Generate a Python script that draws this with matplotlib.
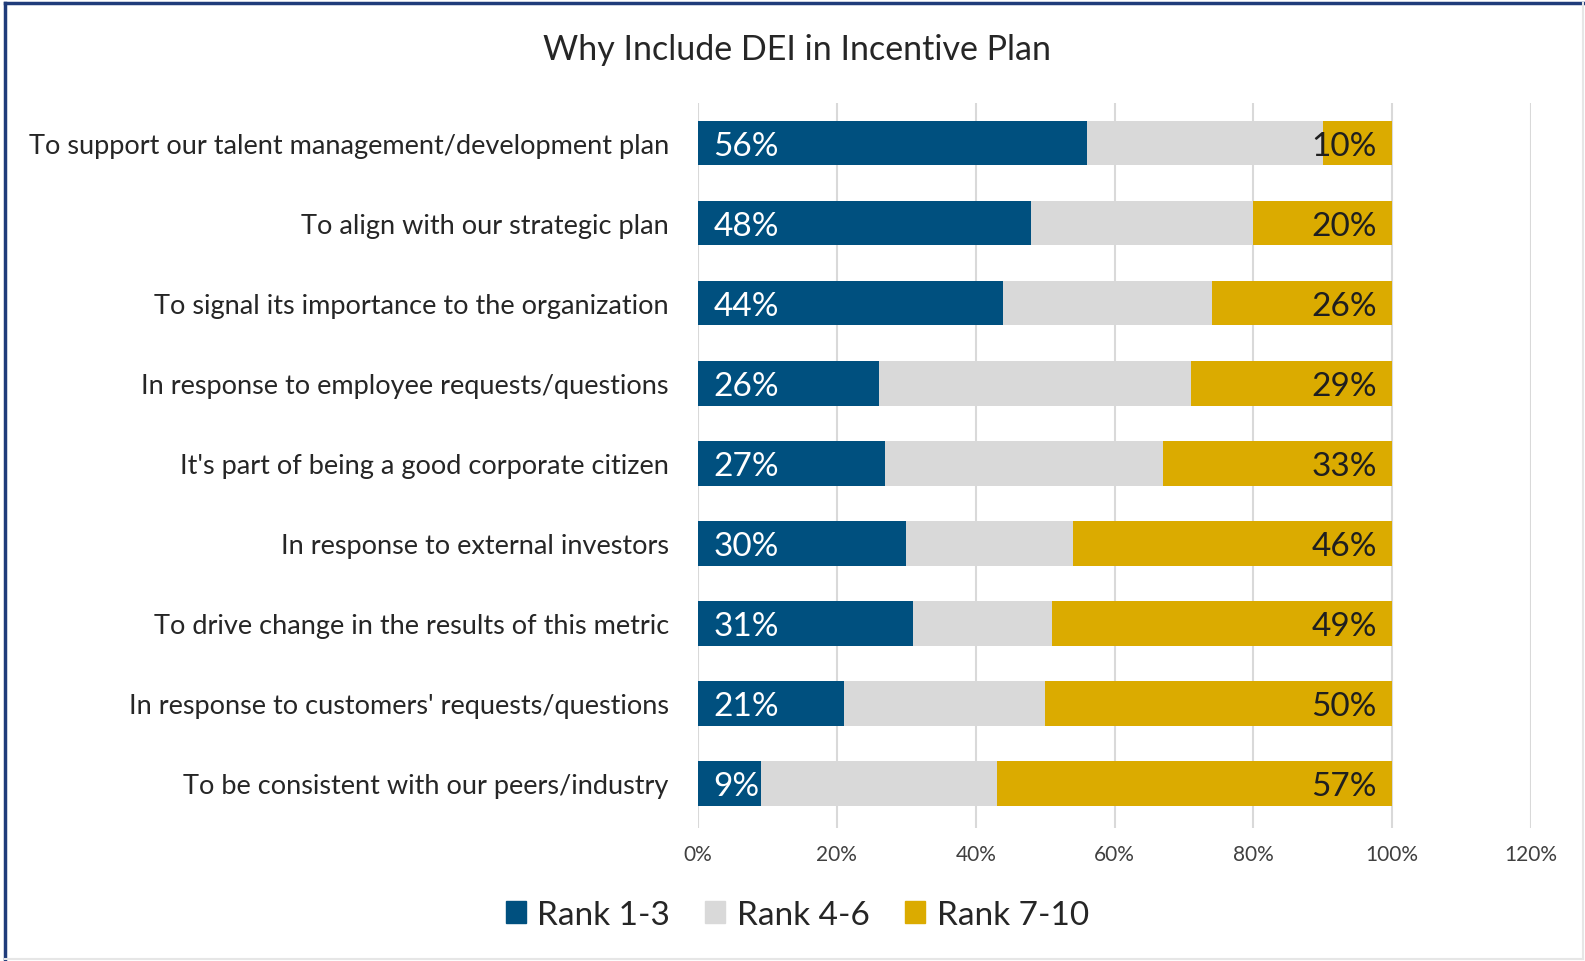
import matplotlib
matplotlib.use("Agg")
import matplotlib.pyplot as plt
import matplotlib.patches as patches
from matplotlib.lines import Line2D

plt.rcParams['font.family'] = ['Lato', 'DejaVu Sans']

# reasons, top to bottom
reasons = [
    "To support our talent management/development plan",
    "To align with our strategic plan",
    "To signal its importance to the organization",
    "In response to employee requests/questions",
    "It's part of being a good corporate citizen",
    "In response to external investors",
    "To drive change in the results of this metric",
    "In response to customers' requests/questions",
    "To be consistent with our peers/industry",
]
rank_1_3 = [56, 48, 44, 26, 27, 30, 31, 21, 9]
rank_7_10 = [10, 20, 26, 29, 33, 46, 49, 50, 57]
rank_4_6 = [100 - a - c for a, c in zip(rank_1_3, rank_7_10)]

series_names = ["Rank 1-3", "Rank 4-6", "Rank 7-10"]
colors = ["#00507f", "#d9d9d9", "#dbab00"]
x_ticks = [0, 20, 40, 60, 80, 100, 120]

fig = plt.figure(figsize=(15.85, 9.62), dpi=100)
ax = fig.add_axes([0.4404, 0.138, 0.5256, 0.754])

ypos = list(range(len(reasons)))
bar_h = 0.56
lefts = [0] * len(reasons)
for vals, col in zip([rank_1_3, rank_4_6, rank_7_10], colors):
    ax.barh(ypos, vals, left=lefts, height=bar_h, color=col, zorder=2)
    lefts = [l + v for l, v in zip(lefts, vals)]

# data labels: inside base for first group, inside end for last group
for y, v in zip(ypos, rank_1_3):
    ax.annotate(f"{v}%", (0, y), xytext=(11, -2), textcoords="offset points",
                ha="left", va="center", fontsize=24, color="white", zorder=3)
for y, v in zip(ypos, rank_7_10):
    ax.annotate(f"{v}%", (100, y), xytext=(-11, -2), textcoords="offset points",
                ha="right", va="center", fontsize=24, color="#1f1f1f", zorder=3)

ax.set_xlim(0, 120)
ax.set_ylim(8.56, -0.5)
ax.set_xticks(x_ticks)
ax.set_xticklabels([f"{t}%" for t in x_ticks], fontsize=15, color="#404040")
ax.set_yticks(ypos)
ax.set_yticklabels(reasons, fontsize=19.5, color="#262626")
ax.tick_params(axis="both", length=0)
ax.tick_params(axis="x", pad=11)
ax.tick_params(axis="y", pad=21)
ax.grid(axis="x", color="#d9d9d9", linewidth=1.5, zorder=0)
ax.set_axisbelow(True)
for s in ax.spines.values():
    s.set_visible(False)

fig.text(0.503, 0.948, "Why Include DEI in Incentive Plan", ha="center", va="center",
         fontsize=24.5, color="#262626")

handles = [patches.Patch(color=c, label=n) for c, n in zip(colors, series_names)]
fig.legend(handles=handles, loc="center", bbox_to_anchor=(0.503, 0.048), ncol=3,
           frameon=False, fontsize=24, handlelength=0.6, handleheight=0.65,
           handletextpad=0.35, columnspacing=1.05, labelcolor="#262626")

# frame around the chart area
fig.add_artist(Line2D([0.003, 0.9985], [0.9955, 0.9955], color="#1f3c7a", linewidth=2.5))
fig.add_artist(Line2D([0.003, 0.003], [0.002, 0.9955], color="#1f3c7a", linewidth=2.5))
fig.add_artist(Line2D([0.9985, 0.9985], [0.002, 0.9955], color="#e6e6e6", linewidth=1.5))
fig.add_artist(Line2D([0.003, 0.9985], [0.002, 0.002], color="#e6e6e6", linewidth=1.5))

fig.savefig("out.png", dpi=100)
